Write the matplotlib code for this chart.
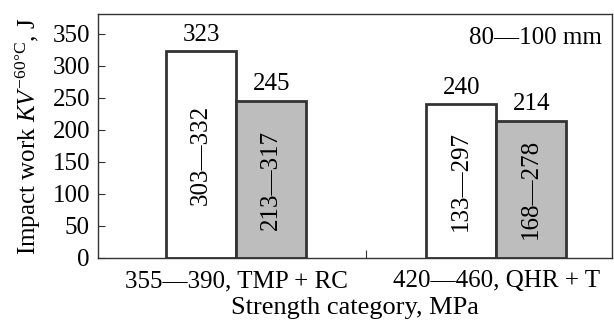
import numpy as np
import matplotlib
matplotlib.use('Agg')
import matplotlib.pyplot as plt

plt.rcParams['font.family'] = ['Liberation Serif', 'DejaVu Serif']
plt.rcParams['mathtext.fontset'] = 'custom'
plt.rcParams['mathtext.rm'] = 'Liberation Serif'
plt.rcParams['mathtext.it'] = 'Liberation Serif:italic'

categories = ['355\u2014390, TMP + RC', '420\u2014460, QHR + T']
white_vals = [323, 240]
gray_vals = [245, 214]
white_ranges = ['303\u2014332', '133\u2014297']
gray_ranges = ['213\u2014317', '168\u2014278']

FS = 18

fig = plt.figure(figsize=(6.14, 3.24), dpi=100)
ax = fig.add_axes([0.160, 0.204, 0.837, 0.753])

x = np.arange(len(categories))
w = 0.27
edge = '#333333'
bw = ax.bar(x - w / 2, white_vals, w, color='white', edgecolor=edge, linewidth=2.0)
bg = ax.bar(x + w / 2, gray_vals, w, color='#bdbdbd', edgecolor=edge, linewidth=2.0)

for bars, vals, rngs in [(bw, white_vals, white_ranges), (bg, gray_vals, gray_ranges)]:
    for b, v, r in zip(bars, vals, rngs):
        cx = b.get_x() + b.get_width() / 2
        ax.annotate(str(v), (cx, v), xytext=(0, 4), textcoords='offset points',
                    ha='center', va='bottom', fontsize=FS)
        ax.text(cx, v / 2, r, ha='center', va='center', rotation=90, fontsize=FS)

ax.text(0.98, 0.90, '80\u2014100 mm', transform=ax.transAxes, ha='right', va='center', fontsize=FS)

ax.set_xlim(-0.531, 1.446)
ax.set_ylim(0, 381)
ax.set_yticks(np.arange(0, 351, 50))
ax.set_xticks([0.5])
ax.set_xticklabels([''])
ax.set_xticks(x, minor=True)
ax.set_xticklabels(categories, minor=True, fontsize=FS)
ax.tick_params(axis='x', which='minor', length=0, pad=9)
ax.tick_params(axis='x', which='major', direction='in', length=6, color=edge)
ax.tick_params(axis='y', direction='in', length=5, labelsize=FS, color=edge, pad=6)

for s in ax.spines.values():
    s.set_color(edge)
    s.set_linewidth(1.0)

ax.set_ylabel(r'Impact work $KV^{\mathrm{-60\degree C}}$, J', fontsize=FS, labelpad=7)
ax.set_xlabel('Strength category, MPa', fontsize=19, labelpad=3)

fig.savefig('out.png', dpi=100)
